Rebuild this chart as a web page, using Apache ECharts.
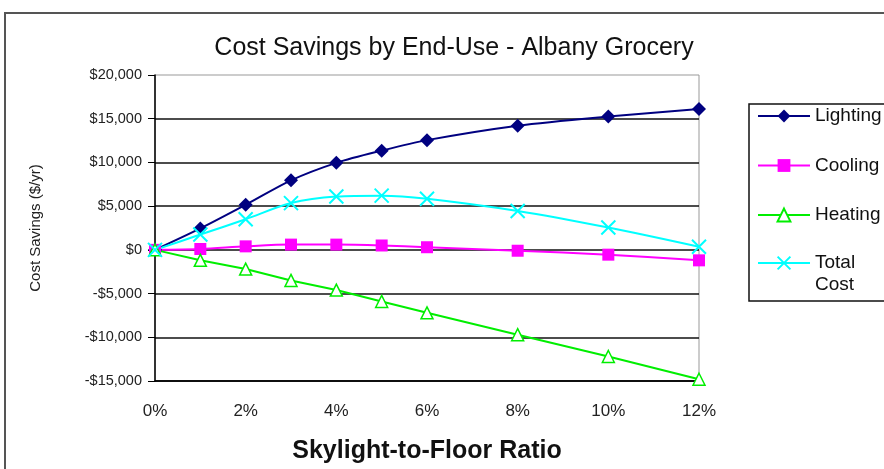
<!DOCTYPE html>
<html>
<head>
<meta charset="utf-8">
<script src="https://cdn.jsdelivr.net/npm/echarts@6/dist/echarts.min.js"></script>
<style>
  html, body { margin: 0; padding: 0; background: #fff; }
  #chart { width: 884px; height: 469px; }
</style>
</head>
<body>
<div id="chart"></div>
<script>
// Skylight-to-floor ratio (%) and annual cost savings ($/yr) per end use
const ratios   = [0, 1, 2, 3, 4, 5, 6, 8, 10, 12];
const lighting = [0, 2450, 5150, 7950, 9950, 11350, 12550, 14200, 15250, 16100];
const cooling  = [0, 100, 400, 600, 600, 500, 300, -100, -550, -1200];
const heating  = [0, -1200, -2200, -3500, -4600, -5900, -7200, -9700, -12200, -14800];
const total    = [0, 1750, 3500, 5350, 6100, 6200, 5850, 4450, 2550, 350];

const FONT = '"Liberation Sans", Arial, sans-serif';
const pairs = vals => ratios.map((r, i) => [r, vals[i]]);

function money(v) {
  const s = '$' + Math.abs(v).toLocaleString('en-US');
  return v < 0 ? '-' + s : s;
}

const legendText = { fontFamily: FONT, fontSize: 19, color: '#111', lineHeight: 20 };

const chart = echarts.init(document.getElementById('chart'), null, { renderer: 'canvas' });

chart.setOption({
  animation: false,
  backgroundColor: '#fff',
  title: {
    text: 'Cost Savings by End-Use - Albany Grocery',
    left: 449, top: 31, textAlign: 'center',
    textStyle: { fontFamily: FONT, fontSize: 25, fontWeight: 'normal', color: '#111' }
  },
  graphic: [
    { // outer chart frame
      type: 'rect', z: -1,
      shape: { x: 5, y: 13, width: 920, height: 520 },
      style: { fill: 'none', stroke: '#555', lineWidth: 2 }
    },
    { // legend box
      type: 'rect', z: -1,
      shape: { x: 749, y: 104, width: 200, height: 197 },
      style: { fill: 'none', stroke: '#111', lineWidth: 1.5 }
    }
  ],
  legend: [
    {
      orient: 'vertical', left: 757, top: 106, padding: 0,
      itemWidth: 52, itemHeight: 16, itemGap: 29.5,
      textStyle: legendText,
      data: ['Lighting', 'Cooling', 'Heating']
    },
    {
      orient: 'vertical', left: 757, top: 230, padding: 0,
      itemWidth: 52, itemHeight: 16,
      textStyle: Object.assign({}, legendText, { lineHeight: 22 }),
      data: ['Total Cost'],
      // blank first line keeps the marker level with "Total"
      formatter: () => '\u00a0\nTotal\nCost'
    }
  ],
  grid: {
    left: 155, top: 75, right: 185, bottom: 86,
    show: true, borderColor: '#999', borderWidth: 1, backgroundColor: 'transparent'
  },
  xAxis: {
    type: 'value', min: 0, max: 12, interval: 2,
    name: 'Skylight-to-Floor Ratio', nameLocation: 'middle', nameGap: 58,
    nameTextStyle: { fontFamily: FONT, fontSize: 25, fontWeight: 'bold', color: '#111' },
    axisLine: { onZero: false, lineStyle: { color: '#000', width: 1.5 } },
    axisTick: { show: false },
    splitLine: { show: false },
    axisLabel: { margin: 22, fontFamily: FONT, fontSize: 17, color: '#222', formatter: v => v + '%' }
  },
  yAxis: {
    type: 'value', min: -15000, max: 20000, interval: 5000,
    name: 'Cost Savings ($/yr)', nameLocation: 'middle', nameGap: 112,
    nameTextStyle: { fontFamily: FONT, fontSize: 15, color: '#222' },
    axisLine: { show: true, lineStyle: { color: '#000', width: 1.5 } },
    axisTick: { show: true, inside: false, length: 7, lineStyle: { color: '#000' } },
    splitLine: { show: true, showMaxLine: false, lineStyle: { color: '#111', width: 1.5 } },
    axisLabel: { margin: 13, fontFamily: FONT, fontSize: 14.5, color: '#222', formatter: money }
  },
  series: [
    {
      name: 'Lighting', type: 'line', data: pairs(lighting), smooth: 0.3,
      symbol: 'diamond', symbolSize: 14,
      lineStyle: { color: '#000080', width: 2 },
      itemStyle: { color: '#000080' }
    },
    {
      name: 'Cooling', type: 'line', data: pairs(cooling), smooth: 0.3,
      symbol: 'rect', symbolSize: 12,
      lineStyle: { color: '#ff00ff', width: 2 },
      itemStyle: { color: '#ff00ff' }
    },
    {
      name: 'Heating', type: 'line', data: pairs(heating),
      symbol: 'triangle', symbolSize: 12,
      lineStyle: { color: '#00ee00', width: 2 },
      itemStyle: { color: '#fff', borderColor: '#00ee00', borderWidth: 1.5 }
    },
    {
      name: 'Total Cost', type: 'line', data: pairs(total), smooth: 0.3,
      symbol: 'path://M0,0L10,10M10,0L0,10', symbolSize: 14,
      lineStyle: { color: '#00ffff', width: 2 },
      itemStyle: { color: 'rgba(0,0,0,0)', borderColor: '#00ffff', borderWidth: 2 }
    }
  ]
});
</script>
</body>
</html>
